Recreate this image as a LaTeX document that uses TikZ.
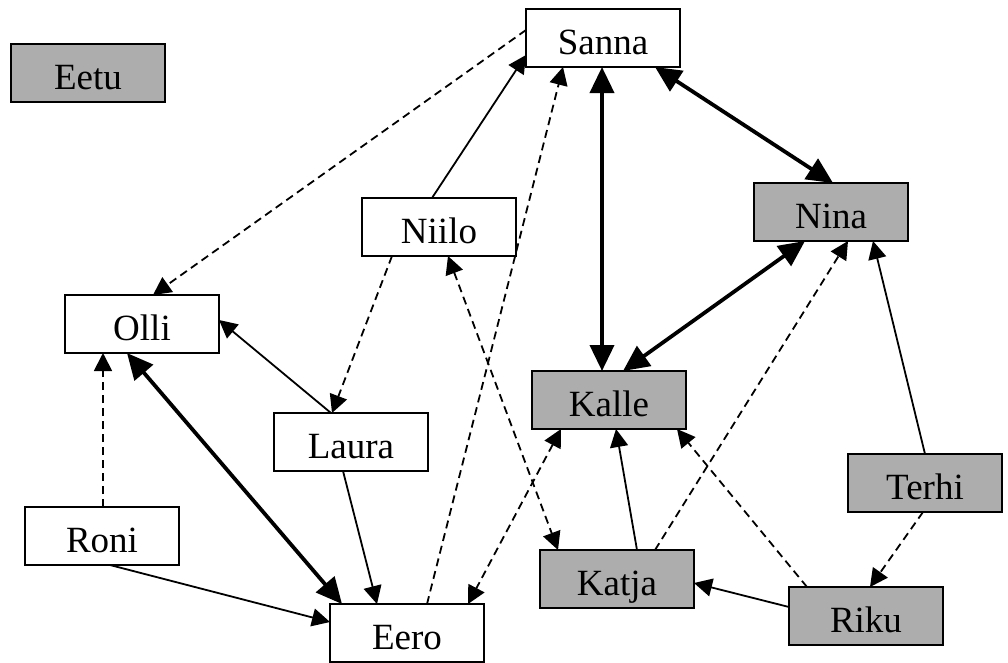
\documentclass[tikz,border=0pt]{standalone}
\usepackage{fontspec}
\setmainfont{Liberation Serif}
\usetikzlibrary{arrows.meta,calc}
\begin{document}
\begin{tikzpicture}[x=1pt,y=-1pt,
  box/.style={draw, line width=2pt, minimum width=154pt, minimum height=58pt,
    inner sep=0pt, text height=33pt, text depth=0pt, font=\fontsize{37}{40}\selectfont},
  shaded/.style={box, fill=black!32},
  thinarr/.style={line width=1.8pt, -{Triangle[length=18pt,width=18pt]}},
  thinboth/.style={line width=1.8pt, {Triangle[length=18pt,width=18pt]}-{Triangle[length=18pt,width=18pt]}},
  thickboth/.style={line width=3.8pt, {Triangle[length=26pt,width=24pt]}-{Triangle[length=26pt,width=24pt]}},
  dsh/.style={dash pattern=on 8pt off 5pt}]
\useasboundingbox (0,0) rectangle (1008,662);
\node[shaded] (Eetu)  at (88,73)  {Eetu};
\node[box]    (Sanna) at (603,38) {Sanna};
\node[shaded] (Nina)  at (831,212) {Nina};
\node[box]    (Niilo) at (439,227) {Niilo};
\node[box]    (Olli)  at (142,324) {Olli};
\node[box]    (Laura) at (351,442) {Laura};
\node[box]    (Roni)  at (102,536) {Roni};
\node[box]    (Eero)  at (407,633) {Eero};
\node[shaded] (Kalle) at (609,400) {Kalle};
\node[shaded] (Katja) at (617,579) {Katja};
\node[shaded] (Terhi) at (925,483) {Terhi};
\node[shaded] (Riku)  at (866,616) {Riku};

\draw[thinarr,dsh] ($(Sanna)+(-77,-8)$) -- ($(Olli)+(11,-29)$);
\draw[thinarr] ($(Niilo)+(-7,-29)$) -- ($(Sanna)+(-77,17)$);
\draw[thinarr,dsh] ($(Eero)+(20,-29)$) -- ($(Sanna)+(-40,29)$);
\draw[thickboth] ($(Sanna)+(-1,29)$) -- ($(Kalle)+(-7,-29)$);
\draw[thickboth] ($(Sanna)+(52,29)$) -- ($(Nina)+(2,-29)$);
\draw[thickboth] ($(Nina)+(-26,29)$) -- ($(Kalle)+(14,-29)$);
\draw[thinarr,dsh] ($(Katja)+(38,-29)$) -- ($(Nina)+(17,29)$);
\draw[thinarr] ($(Terhi)+(0,-29)$) -- ($(Nina)+(42,29)$);
\draw[thinarr,dsh] ($(Niilo)+(-47,29)$) -- ($(Laura)+(-19,-29)$);
\draw[thinboth,dsh] ($(Niilo)+(9,29)$) -- ($(Katja)+(-59,-29)$);
\draw[thinboth,dsh] ($(Kalle)+(-48,29)$) -- ($(Eero)+(61,-29)$);
\draw[thinarr] ($(Laura)+(-20,-29)$) -- ($(Olli)+(77,-4)$);
\draw[thinarr] ($(Laura)+(-8,29)$) -- ($(Eero)+(-30,-29)$);
\draw[thickboth] ($(Olli)+(-15,29)$) -- ($(Eero)+(-65,-29)$);
\draw[thinarr,dsh] ($(Roni)+(1,-29)$) -- ($(Olli)+(-39,29)$);
\draw[thinarr] ($(Roni)+(8,29)$) -- ($(Eero)+(-77,-11)$);
\draw[thinarr] ($(Katja)+(20,-29)$) -- ($(Kalle)+(7,29)$);
\draw[thinarr,dsh] ($(Riku)+(-59,-29)$) -- ($(Kalle)+(68,29)$);
\draw[thinarr] ($(Riku)+(-77,-9)$) -- ($(Katja)+(77,4)$);
\draw[thinarr,dsh] ($(Terhi)+(-2,29)$) -- ($(Riku)+(4,-29)$);
\end{tikzpicture}
\end{document}
